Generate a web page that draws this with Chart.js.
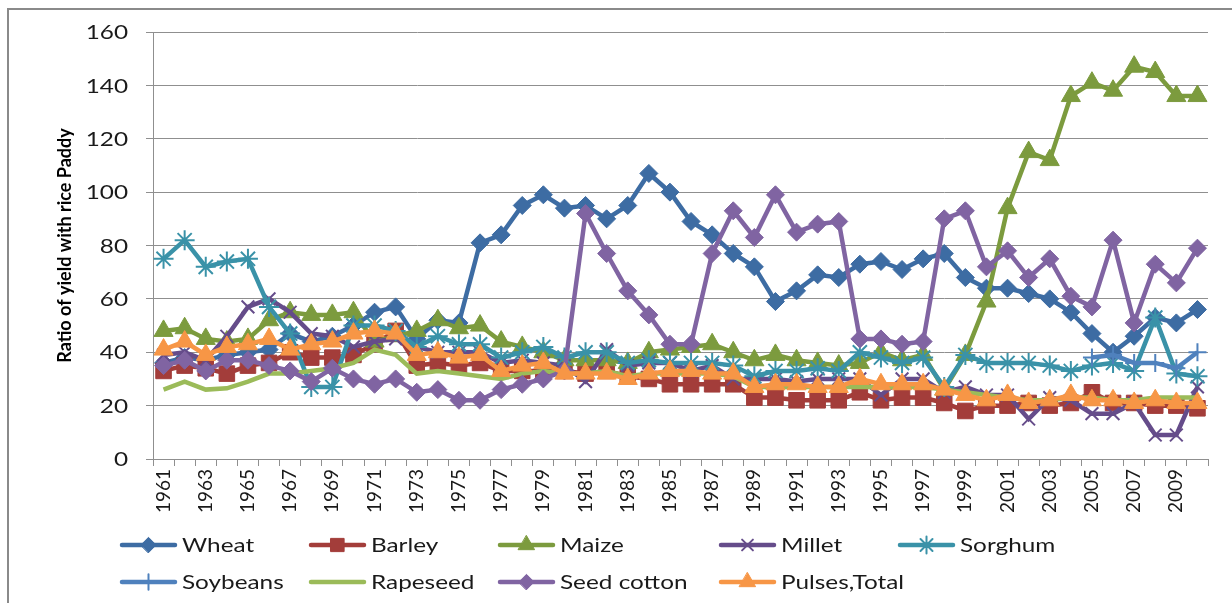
<!DOCTYPE html>
<html>
<head>
<meta charset="utf-8">
<title>Ratio of yield with rice Paddy</title>
<script src="https://cdn.jsdelivr.net/npm/chart.js@4.4.1/dist/chart.umd.min.js"></script>
<style>
  html, body { margin: 0; padding: 0; background: #fff; }
  #wrap { width: 1232px; height: 603px; position: relative; }
</style>
</head>
<body>
<div id="wrap"><canvas id="yieldChart"></canvas></div>
<script>
const years = [
  '1961','1962','1963','1964','1965','1966','1967','1968','1969','1970',
  '1971','1972','1973','1974','1975','1976','1977','1978','1979','1980',
  '1981','1982','1983','1984','1985','1986','1987','1988','1989','1990',
  '1991','1992','1993','1994','1995','1996','1997','1998','1999','2000',
  '2001','2002','2003','2004','2005','2006','2007','2008','2009','2010'
];

const wheat = [36, 38, 37, 39, 40, 41, 47, 44, 46, 50,
  55, 57, 45, 52, 51, 81, 84, 95, 99, 94,
  95, 90, 95, 107, 100, 89, 84, 77, 72, 59,
  63, 69, 68, 73, 74, 71, 75, 77, 68, 64,
  64, 62, 60, 55, 47, 40, 46, 53, 51, 56];
const barley = [33, 35, 34, 32, 35, 36, 40, 38, 38, 39,
  43, 48, 35, 36, 35, 36, 33, 33, 33, 33,
  32, 33, 31, 30, 28, 28, 28, 28, 23, 23,
  22, 22, 22, 25, 22, 23, 23, 21, 18, 20,
  20, 21, 20, 21, 25, 21, 21, 20, 20, 19];
const maize = [48, 49, 45, 44, 45, 52, 55, 54, 54, 55,
  44, 46, 48, 52, 49, 50, 44, 42, 40, 37,
  37, 37, 36, 40, 41, 42, 43, 40, 37, 39,
  37, 36, 35, 36, 40, 37, 39, 26, 39, 59,
  94, 115, 112, 136, 141, 138, 147, 145, 136, 136];
const millet = [39, 40, 37, 46, 57, 60, 55, 47, 46, 42,
  44, 45, 42, 40, 40, 40, 36, 37, 36, 35,
  29, 41, 35, 36, 36, 33, 35, 30, 30, 30,
  29, 30, 30, 30, 24, 30, 30, 25, 27, 24,
  24, 15, 23, 22, 17, 17, 21, 9, 9, 27];
const sorghum = [75, 82, 72, 74, 75, 57, 47, 27, 27, 50,
  50, 48, 42, 46, 43, 43, 38, 40, 42, 38,
  40, 40, 36, 37, 36, 36, 36, 35, 31, 33,
  33, 34, 33, 40, 38, 36, 38, 27, 39, 36,
  36, 36, 35, 33, 35, 36, 33, 53, 32, 31];
const soybeans = [null, null, null, null, null, null, null, null, null, null,
  null, null, null, null, null, null, null, null, null, null,
  null, null, null, null, null, null, null, null, null, null,
  null, null, null, null, null, null, null, null, null, null,
  null, null, null, null, 38, 39, 36, 36, 34, 40];
const rapeseed = [26, 29, 26, 26.5, 29, 32, 32, 33, 34, 36,
  41, 39, 32, 33, 32, 31, 30, 32, 33, 32,
  32, 33, 31, 32, 32, 32, 32, 31, 27, 27,
  27, 27, 27, 27, 27, 27, 27, 26, 25, 24,
  23, 22, 22, 23, 23, 22, 22, 23, 23, 23];
const seedCotton = [35, 37, 33, 37, 37, 35, 33, 29, 34, 30,
  28, 30, 25, 26, 22, 22, 26, 28, 30, 33,
  92, 77, 63, 54, 43, 43, 77, 93, 83, 99,
  85, 88, 89, 45, 45, 43, 44, 90, 93, 72,
  78, 68, 75, 61, 57, 82, 51, 73, 66, 79];
const pulses = [41, 44, 39, 42, 43, 45, 41, 43, 44, 47,
  48, 47, 39, 40, 38, 39, 33, 35, 36, 32,
  32, 32, 30, 32, 33, 33, 32, 32, 27, 28,
  28, 27, 27, 30, 28, 28, 28, 26, 24, 22,
  24, 21, 22, 24, 22, 22, 21, 22, 21, 21];

const seriesNames = ['Wheat', 'Barley', 'Maize', 'Millet', 'Sorghum',
  'Soybeans', 'Rapeseed', 'Seed cotton', 'Pulses,Total'];
const seriesData = [wheat, barley, maize, millet, sorghum, soybeans, rapeseed, seedCotton, pulses];
const seriesColors = ['#3D6CA3', '#A33D3A', '#7C9B3E', '#654C8A', '#3A92A8',
  '#4F81BD', '#9BBB59', '#8064A2', '#F79646'];
const markers = ['rectRot', 'rect', 'triangle', 'crossRot', 'star', 'cross', false, 'rectRot', 'triangle'];
const markerSizes = [9, 11, 11, 9, 10, 9, 0, 9, 11];
const markerBorders = [1, 1, 1, 2, 2, 2, 0, 1, 1];

const SX = 1.28; // wide text like the original
const textColor = '#1a1a1a';
const gridColor = '#8f8f8f';

function wideText(ctx, text, x, y, align) {
  const w = ctx.measureText(text).width * SX;
  const left = align === 'right' ? x - w : x;
  ctx.save();
  ctx.translate(left, y);
  ctx.scale(SX, 1);
  ctx.textAlign = 'left';
  ctx.fillText(text, 0, 0);
  ctx.restore();
}

const frame = {
  id: 'frame',
  beforeDraw(chart) {
    const ctx = chart.ctx;
    ctx.save();
    ctx.fillStyle = '#fff';
    ctx.fillRect(0, 0, chart.width, chart.height);
    ctx.strokeStyle = '#8a8a8a';
    ctx.lineWidth = 2;
    ctx.strokeRect(8, 9, chart.width + 20, chart.height + 20);
    ctx.restore();
  }
};

// y labels and the legend are drawn by hand to get the stretched look
const labelsAndLegend = {
  id: 'labelsAndLegend',
  afterDraw(chart) {
    const ctx = chart.ctx;
    const y = chart.scales.y;
    ctx.save();
    ctx.fillStyle = textColor;
    ctx.font = '19px Lato';
    ctx.textBaseline = 'middle';
    y.ticks.forEach(t => {
      wideText(ctx, String(t.value), 128, y.getPixelForValue(t.value) + 1, 'right');
    });

    const colX = [122, 311, 500, 721, 900];
    const rowY = [545, 582];
    ctx.font = '19px Lato';
    chart.data.datasets.forEach((ds, i) => {
      const row = i < 5 ? 0 : 1;
      const x = colX[row === 0 ? i : i - 5];
      const cy = rowY[row];
      ctx.strokeStyle = ds.borderColor;
      ctx.lineWidth = 4.5;
      ctx.lineCap = 'round';
      ctx.beginPath();
      ctx.moveTo(x, cy);
      ctx.lineTo(x + 53, cy);
      ctx.stroke();
      if (ds.pointStyle && Chart.helpers && Chart.helpers.drawPoint) {
        ctx.fillStyle = ds.borderColor;
        ctx.lineWidth = ds.pointBorderWidth;
        Chart.helpers.drawPoint(ctx, {
          pointStyle: ds.pointStyle,
          radius: ds.pointRadius * 0.85,
          borderWidth: ds.pointBorderWidth,
          rotation: 0
        }, x + 26.5, cy);
      }
      ctx.fillStyle = textColor;
      wideText(ctx, ds.label, x + 60, cy + 1, 'left');
    });
    ctx.restore();
  }
};

const datasets = seriesNames.map((name, i) => ({
  label: name,
  data: seriesData[i],
  borderColor: seriesColors[i],
  backgroundColor: seriesColors[i],
  borderWidth: 4.5,
  pointStyle: markers[i],
  pointRadius: markerSizes[i],
  pointHoverRadius: markerSizes[i],
  pointBorderWidth: markerBorders[i],
  pointBackgroundColor: seriesColors[i],
  pointBorderColor: seriesColors[i],
  tension: 0,
  fill: false,
  spanGaps: false,
  order: seriesNames.length - i
}));

new Chart(document.getElementById('yieldChart'), {
  type: 'line',
  data: { labels: years, datasets: datasets },
  options: {
    responsive: true,
    maintainAspectRatio: false,
    animation: false,
    layout: { padding: { top: 32, right: 24, bottom: 0, left: 0 } },
    plugins: {
      legend: { display: false },
      tooltip: { enabled: false }
    },
    scales: {
      x: {
        offset: true,
        grid: { display: true, drawOnChartArea: false, offset: true, tickLength: 7, color: gridColor },
        border: { color: gridColor },
        ticks: {
          autoSkip: false,
          minRotation: 90,
          maxRotation: 90,
          padding: 3,
          color: textColor,
          font: { family: 'Lato', size: 19 },
          callback: (v, i) => (i % 2 === 0 ? years[i] : '')
        },
        afterFit: s => { s.height = 144; }
      },
      y: {
        min: 0,
        max: 160,
        ticks: { stepSize: 20, display: false },
        grid: { color: gridColor, tickLength: 7 },
        border: { color: gridColor },
        title: {
          display: true,
          text: 'Ratio of yield with rice Paddy',
          color: '#000',
          font: { family: 'Lato', size: 18, weight: 'bold' },
          padding: { top: 54, bottom: 0 }
        },
        afterFit: s => { s.width = 153; }
      }
    }
  },
  plugins: [frame, labelsAndLegend]
});
</script>
</body>
</html>
